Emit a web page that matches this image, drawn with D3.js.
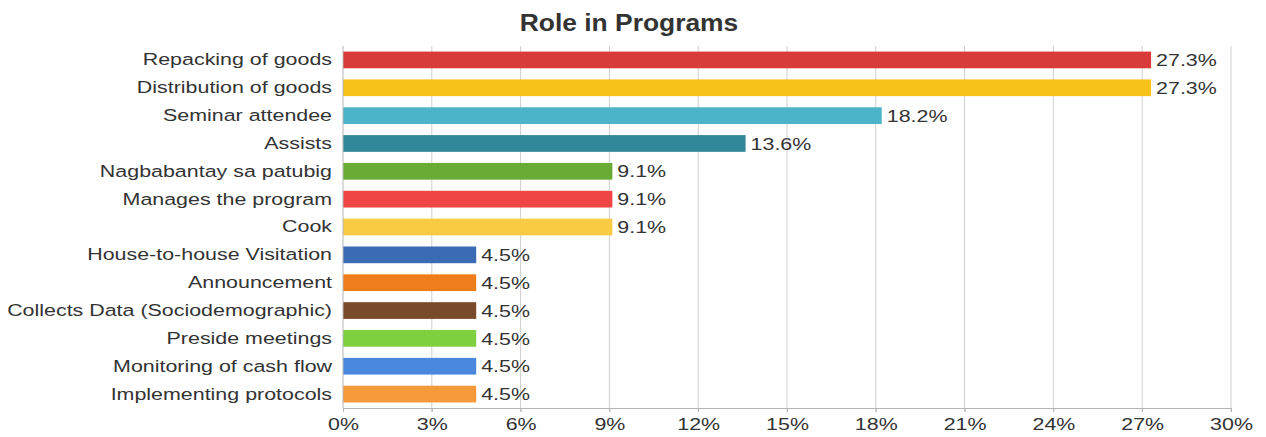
<!DOCTYPE html>
<html><head><meta charset="utf-8">
<script src="https://cdn.jsdelivr.net/npm/d3@7"></script>
<style>
html,body{margin:0;padding:0;background:#fff;}
svg{display:block;font-family:"Liberation Sans",Arial,Helvetica,sans-serif;}
</style></head>
<body><svg id="chart" width="1266" height="437"></svg>
<script>
const title = "Role in Programs";
const categories = ["Repacking of goods","Distribution of goods","Seminar attendee","Assists","Nagbabantay sa patubig","Manages the program","Cook","House-to-house Visitation","Announcement","Collects Data (Sociodemographic)","Preside meetings","Monitoring of cash flow","Implementing protocols"];
const values = [27.3,27.3,18.2,13.6,9.1,9.1,9.1,4.5,4.5,4.5,4.5,4.5,4.5];
const colors = ["#d93a3a","#f7c21a","#4cb3c9","#2f8797","#6aab35","#ef4545","#f9cb45","#3b6bb5","#ef7d1c","#7a4a2c","#7fd03e","#4a88de","#f5993a"];
const ticks = [0,3,6,9,12,15,18,21,24,27,30];

const SX = 1.26; // horizontal stretch of the reference's text
const svg = d3.select("#chart");
const m = {left:343, right:1231, top:46, bottom:408};
const x = d3.scaleLinear().domain([0,30]).range([m.left,m.right]);
const y = d3.scaleBand().domain(categories).range([m.top,m.bottom]).paddingInner(0.4).paddingOuter(0.2);

svg.append("text").attr("transform","translate(629,31) scale(1.1,1)").attr("text-anchor","middle")
  .attr("font-size",24).attr("font-weight","bold").attr("fill","#333").text(title);

// gridlines
svg.append("g").selectAll("line").data(ticks.slice(1)).join("line")
  .attr("x1",d=>x(d)).attr("x2",d=>x(d)).attr("y1",m.top).attr("y2",m.bottom+4)
  .attr("stroke","#cfcfcf").attr("stroke-width",1);

// bars
svg.append("g").selectAll("rect").data(categories).join("rect")
  .attr("x",x(0)).attr("y",d=>y(d)).attr("height",y.bandwidth())
  .attr("width",(d,i)=>x(values[i])-x(0)).attr("fill",(d,i)=>colors[i]);

// value labels
svg.append("g").selectAll("text").data(categories).join("text")
  .attr("transform",(d,i)=>`translate(${x(values[i])+5},${y(d)+y.bandwidth()/2}) scale(${SX},1)`)
  .attr("dy","0.36em")
  .attr("font-size",17).attr("fill","#333").text((d,i)=>values[i].toFixed(1)+"%");

// y axis
const ya = svg.append("g").attr("transform",`translate(${m.left},0)`)
  .call(d3.axisLeft(y).tickSize(0).tickPadding(11));
ya.select(".domain").attr("stroke","#b5b5b5").attr("d",`M0,${m.top}V${m.bottom}`);
ya.selectAll("text").attr("x",-11/SX).attr("transform",`scale(${SX},1)`)
  .attr("font-size",17).attr("fill","#333").attr("font-family","Liberation Sans, Arial, sans-serif");

// x axis
const xa = svg.append("g").attr("transform",`translate(0,${m.bottom})`)
  .call(d3.axisBottom(x).tickValues(ticks).tickSize(4).tickPadding(6).tickFormat(d=>d+"%"));
xa.select(".domain").attr("stroke","#b5b5b5");
xa.selectAll(".tick line").attr("stroke","#b5b5b5");
xa.selectAll("text").attr("transform",`scale(${SX},1)`)
  .attr("font-size",17).attr("fill","#333").attr("font-family","Liberation Sans, Arial, sans-serif");
</script></body></html>
